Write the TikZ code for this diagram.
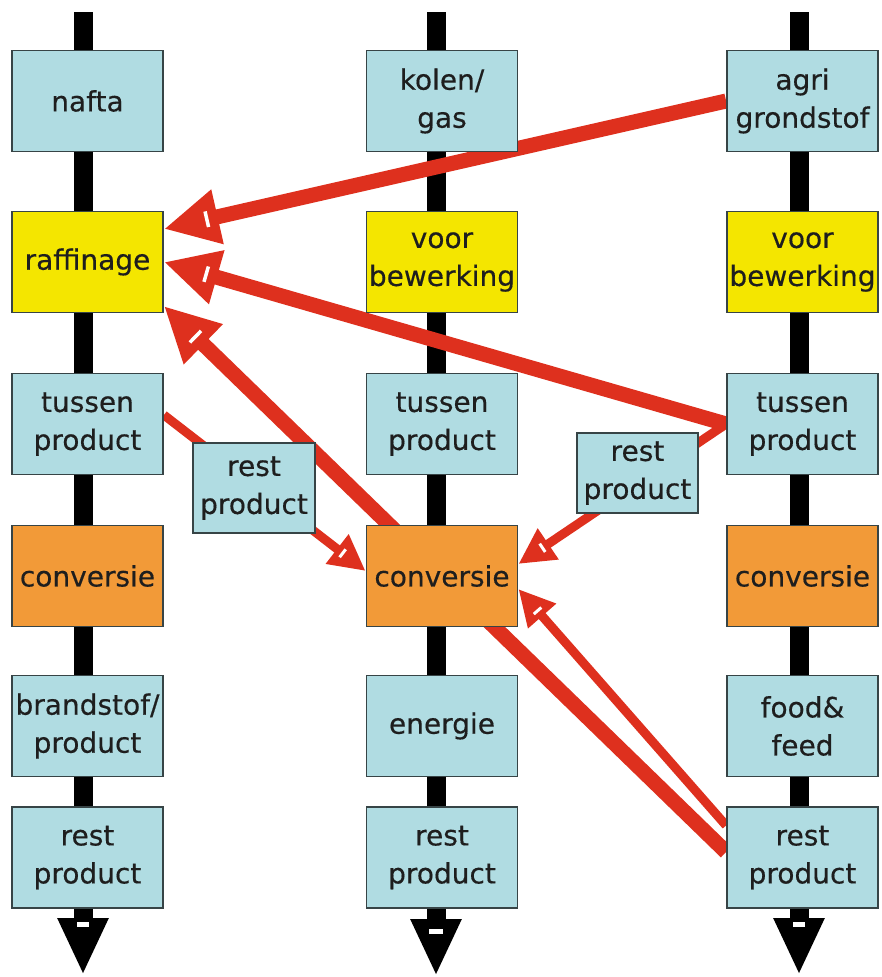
\documentclass[tikz,border=0pt]{standalone}
\usepackage{fontspec}
\setmainfont{DejaVu Sans}
\newfontfamily\boxfont[FakeBold=0.4]{DejaVu Sans}
\usetikzlibrary{arrows.meta,calc}
\definecolor{boxblue}{RGB}{176,220,226}
\definecolor{boxyellow}{RGB}{244,230,0}
\definecolor{boxorange}{RGB}{242,154,56}
\definecolor{flowred}{RGB}{222,48,30}
\definecolor{edgegrey}{RGB}{55,68,70}
\definecolor{txt}{RGB}{30,30,30}
\pgfdeclarelayer{spinelayer}
\pgfdeclarelayer{flowlayer}
\pgfsetlayers{spinelayer,flowlayer,main}
\begin{document}
\begin{tikzpicture}[x=1pt,y=-1pt,
  box/.style={draw=edgegrey, line width=1.8pt, minimum width=151pt, minimum height=101pt,
    inner sep=0pt, align=center, font=\boxfont\fontsize{28}{38}\selectfont, text=txt},
  lbox/.style={box, fill=boxblue},
  ybox/.style={box, fill=boxyellow},
  obox/.style={box, fill=boxorange},
  sidebox/.style={box, fill=boxblue, minimum width=122pt},
  spineline/.style={line width=19pt, black, -{Triangle[length=57pt,width=47pt]}},
  thickflow/.style={line width=15pt, flowred, -{Triangle[length=55pt,width=52pt]}},
  thinflow/.style={line width=9pt, flowred, -{Triangle[length=36pt,width=35pt]}},
  tipmark/.style={fill=white, draw=none},
  headmark/.style={white, line width=3.5pt}
]
\useasboundingbox (0,0) rectangle (882,977);

% column 1
\node[lbox] (naf) at (87.5,101) {nafta};
\node[ybox] (raf) at (87.5,262) {raffinage};
\node[lbox] (tus1) at (87.5,424) {tussen\\product};
\node[obox] (conv1) at (87.5,576) {conversie};
\node[lbox] (brand) at (87.5,726) {brandstof/\\product};
\node[lbox] (rest1) at (87.5,857.5) {rest\\product};

% column 2
\node[lbox] (kol) at (442,101) {kolen/\\gas};
\node[ybox] (voor2) at (442,262) {voor\\bewerking};
\node[lbox] (tus2) at (442,424) {tussen\\product};
\node[obox] (conv2) at (442,576) {conversie};
\node[lbox] (ener) at (442,726) {energie};
\node[lbox] (rest2) at (442,857.5) {rest\\product};

% column 3
\node[lbox] (agri) at (802.5,101) {agri\\grondstof};
\node[ybox] (voor3) at (802.5,262) {voor\\bewerking};
\node[lbox] (tus3) at (802.5,424) {tussen\\product};
\node[obox] (conv3) at (802.5,576) {conversie};
\node[lbox] (food) at (802.5,726) {food\&\\feed};
\node[lbox] (rest3) at (802.5,857.5) {rest\\product};

% side rest products
\node[sidebox, minimum height=90pt] (sideL) at (254,488) {rest\\product};
\node[sidebox, minimum height=80pt, minimum width=121pt] (sideR) at (637.5,473) {rest\\product};

% spines
\coordinate (top1) at (83,12);
\coordinate (top2) at (436,12);
\coordinate (top3) at (799,12);
\coordinate (end1) at (83,975);
\coordinate (end2) at (436,976);
\coordinate (end3) at (799,975);
\begin{pgfonlayer}{spinelayer}
\draw[spineline] (top1) -- (end1);
\draw[spineline] (top2) -- (end2);
\draw[spineline] (top3) -- (end3);
\end{pgfonlayer}
\fill[tipmark] (77,922) rectangle (89,927);
\fill[tipmark] (429,929) rectangle (443,934);
\fill[tipmark] (793,922) rectangle (805,927);

% flow end points
\coordinate (s1) at (agri.west);
\coordinate (t1) at ([yshift=33pt]raf.east);
\coordinate (s2) at (tus3.west);
\coordinate (t2) at (raf.east);
\coordinate (s3) at ([yshift=5.5pt]rest3.west);
\coordinate (t3) at ([yshift=-44pt]raf.east);
\coordinate (s4) at ([yshift=9pt]tus1.east);
\coordinate (t4) at ([yshift=5pt]conv2.west);
\coordinate (s5) at (tus3.west);
\coordinate (t5) at ([yshift=12pt]conv2.east);
\coordinate (s6) at ([yshift=32pt]rest3.west);
\coordinate (t6) at ([yshift=-13pt]conv2.east);

% red flows
\begin{pgfonlayer}{flowlayer}
\draw[thickflow] (s1) -- (t1);
\draw[thickflow] (s2) -- (t2);
\draw[thickflow] (s3) -- (t3);
\draw[thinflow] (s4) -- (t4);
\draw[thinflow] (s5) -- (t5);
\draw[thinflow] (s6) -- (t6);
\end{pgfonlayer}

% white marks inside the red heads
\foreach \s/\t in {s1/t1,s2/t2,s3/t3}{
  \coordinate (m) at ($(\t)!44pt!(\s)$);
  \draw[headmark] ($(m)!8pt!90:(\t)$) -- ($(m)!8pt!-90:(\t)$);
}
\foreach \s/\t in {s4/t4,s5/t5,s6/t6}{
  \coordinate (m) at ($(\t)!29pt!(\s)$);
  \draw[headmark, line width=3pt] ($(m)!5pt!90:(\t)$) -- ($(m)!5pt!-90:(\t)$);
}
\end{tikzpicture}
\end{document}
